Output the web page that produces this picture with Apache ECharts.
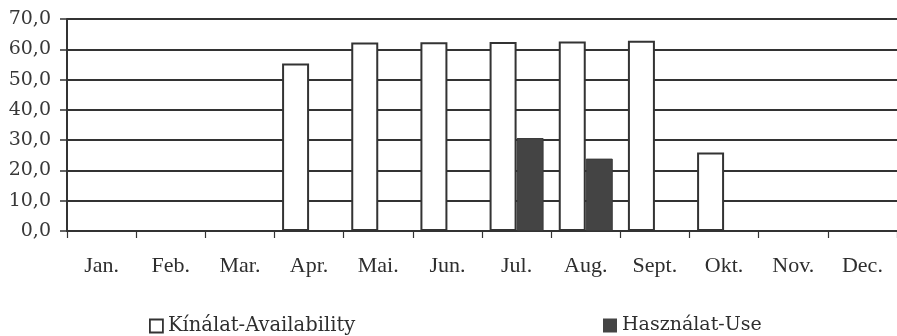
<!DOCTYPE html>
<html>
<head>
<meta charset="utf-8">
<script src="https://cdn.jsdelivr.net/npm/echarts@6/dist/echarts.min.js"></script>
<style>
  html, body { margin: 0; padding: 0; background: #fff; }
  #chart { width: 897px; height: 336px; }
</style>
</head>
<body>
<div id="chart"></div>
<script>
// Monthly availability vs. use
const months = ['Jan.', 'Feb.', 'Mar.', 'Apr.', 'Mai.', 'Jun.', 'Jul.', 'Aug.', 'Sept.', 'Okt.', 'Nov.', 'Dec.'];
const availability = [null, null, null, 55.3, 62.2, 62.3, 62.4, 62.6, 62.8, 25.9, null, null];
const use = [null, null, null, null, null, null, 30.7, 23.9, null, null, null, null];
const yTickLabels = ['0,0', '10,0', '20,0', '30,0', '40,0', '50,0', '60,0', '70,0'];

const ink = '#333333';
const serif = '"DejaVu Serif", "Liberation Serif", serif';
const times = '"Liberation Serif", "DejaVu Serif", serif';

const chart = echarts.init(document.getElementById('chart'));
chart.setOption({
  animation: false,
  backgroundColor: '#ffffff',
  grid: { left: 67, right: 0, top: 19, bottom: 105, containLabel: false },
  legend: [
    {
      left: 149, top: 316, padding: 0, icon: 'rect', itemWidth: 13, itemHeight: 13,
      textStyle: { fontFamily: serif, fontSize: 19.5, color: '#2e2e2e' },
      data: [{ name: 'Kínálat-Availability', itemStyle: { color: '#fff', borderColor: ink, borderWidth: 1.8 } }]
    },
    {
      left: 603, top: 316, padding: 0, icon: 'rect', itemWidth: 14, itemHeight: 14,
      textStyle: { fontFamily: serif, fontSize: 19, color: '#2e2e2e' },
      data: [{ name: 'Használat-Use', itemStyle: { color: '#444', borderWidth: 0 } }]
    }
  ],
  xAxis: {
    type: 'category',
    data: months,
    axisLine: { show: true, lineStyle: { color: ink, width: 2 } },
    axisTick: { show: true, length: 7, lineStyle: { color: ink, width: 1.2 } },
    axisLabel: { margin: 24, fontFamily: times, fontSize: 22, color: '#2e2e2e' }
  },
  yAxis: {
    type: 'value',
    min: 0, max: 70, interval: 10,
    axisLine: { show: true, lineStyle: { color: ink, width: 2 } },
    axisTick: { show: true, length: 7, lineStyle: { color: ink, width: 1.5 } },
    splitLine: { show: true, lineStyle: { color: ink, width: 2 } },
    axisLabel: {
      margin: 16, fontFamily: serif, fontSize: 19, color: '#383838',
      formatter: v => yTickLabels[Math.round(v / 10)]
    }
  },
  series: [
    {
      name: 'Kínálat-Availability', type: 'bar', data: availability,
      barWidth: 27, barGap: '0%',
      itemStyle: { color: '#ffffff', borderColor: ink, borderWidth: 2 }
    },
    {
      name: 'Használat-Use', type: 'bar', data: use,
      barWidth: 27,
      itemStyle: { color: '#444444', borderColor: '#3a3a3a', borderWidth: 1 }
    }
  ]
});
</script>
</body>
</html>
